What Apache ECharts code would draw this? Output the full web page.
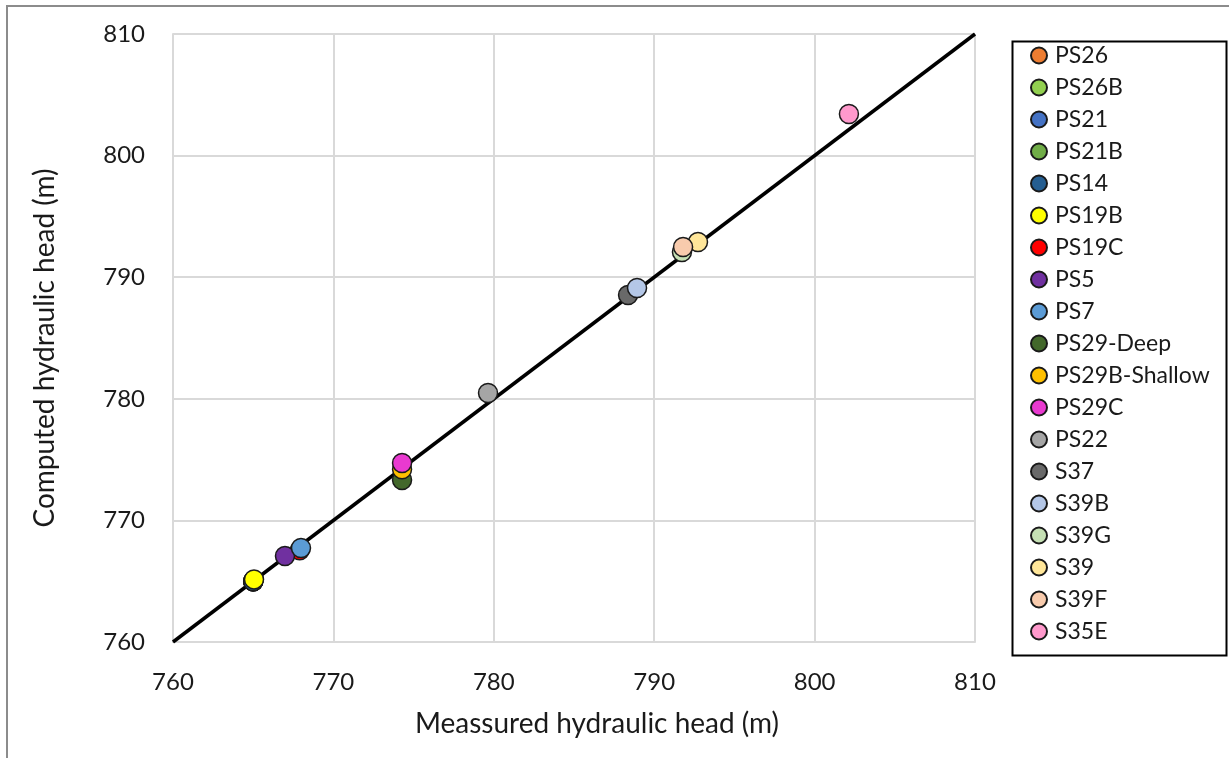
<!DOCTYPE html>
<html>
<head>
<meta charset="utf-8">
<script src="https://cdn.jsdelivr.net/npm/echarts@6/dist/echarts.min.js"></script>
<style>
html,body{margin:0;padding:0;background:#fff;}
#frame{position:absolute;left:6px;top:5px;width:1223px;height:753px;border-left:2px solid #8c8c8c;border-top:2px solid #8c8c8c;}
#chart{position:absolute;left:0;top:0;width:1229px;height:758px;}
</style>
</head>
<body>
<div id="frame"></div>
<div id="chart"></div>
<script>
const wellNames = ["PS26","PS26B","PS21","PS21B","PS14","PS19B","PS19C","PS5","PS7","PS29-Deep","PS29B-Shallow","PS29C","PS22","S37","S39B","S39G","S39","S39F","S35E"];
const wellColors = ["#ED7D31","#92D050","#4472C4","#70AD47","#255E91","#FFFF00","#FF0000","#7030A0","#5B9BD5","#43682B","#FFC000","#E93AD0","#A5A5A5","#696969","#B4C7E7","#C5E0B4","#FFE699","#F8CBAD","#FF99CC"];
const measured = [765.0,765.0,765.0,765.0,765.0,765.05,767.9,766.98,767.98,774.28,774.28,774.28,779.64,788.37,788.93,791.73,792.73,791.8,802.14];
const computed = [765.0,765.0,765.0,765.0,765.0,765.15,767.55,767.07,767.73,773.32,774.2,774.72,780.48,788.54,789.11,792.07,792.89,792.48,803.42];
const oneToOne = [[760,760],[810,810]];
const axisTicks = {min:760,max:810,interval:10};

const font = "Lato";
const chart = echarts.init(document.getElementById('chart'));
const series = [{
  type:'line', data:oneToOne, showSymbol:false, symbol:'none', silent:true,
  lineStyle:{color:'#000',width:3.5}, z:1
}];
wellNames.forEach((n,i)=>{
  series.push({
    name:n, type:'scatter', data:[[measured[i],computed[i]]],
    symbol:'circle', symbolSize:19, z:2+i,
    itemStyle:{color:wellColors[i],borderColor:'#1a1a1a',borderWidth:1.5,opacity:1}
  });
});
chart.setOption({
  animation:false,
  backgroundColor:'transparent',
  grid:{left:173,right:254,top:34,bottom:116},
  xAxis:{type:'value',min:axisTicks.min,max:axisTicks.max,interval:axisTicks.interval,
    name:'Meassured hydraulic head (m)',nameLocation:'middle',nameGap:68,
    nameTextStyle:{fontFamily:font,fontSize:28,color:'#1a1a1a',padding:[0,0,0,46]},
    axisLine:{lineStyle:{color:'#d9d9d9',width:2}},axisTick:{show:false},
    axisLabel:{fontFamily:font,fontSize:24,color:'#1a1a1a',margin:28},
    splitLine:{show:true,lineStyle:{color:'#d9d9d9',width:2}}},
  yAxis:{type:'value',min:axisTicks.min,max:axisTicks.max,interval:axisTicks.interval,
    name:'Computed hydraulic head (m)',nameLocation:'middle',nameGap:114,
    nameTextStyle:{fontFamily:font,fontSize:28,color:'#1a1a1a',padding:[0,20,0,0]},
    axisLine:{show:true,lineStyle:{color:'#d9d9d9',width:2}},axisTick:{show:false},
    axisLabel:{fontFamily:font,fontSize:24,color:'#1a1a1a',margin:28},
    splitLine:{show:true,lineStyle:{color:'#d9d9d9',width:2}}},
  graphic:[{type:'rect',left:1010,top:39,shape:{width:214,height:614},
    style:{fill:'none',stroke:'#000',lineWidth:2},z:0}],
  legend:{data:wellNames,orient:'vertical',left:1030,top:44,icon:'circle',
    itemWidth:16,itemHeight:16,itemGap:9,padding:0,
    textStyle:{fontFamily:font,fontSize:23,lineHeight:22,color:'#1a1a1a',padding:[0,0,0,3]}},
  series:series
});
</script>
</body>
</html>
